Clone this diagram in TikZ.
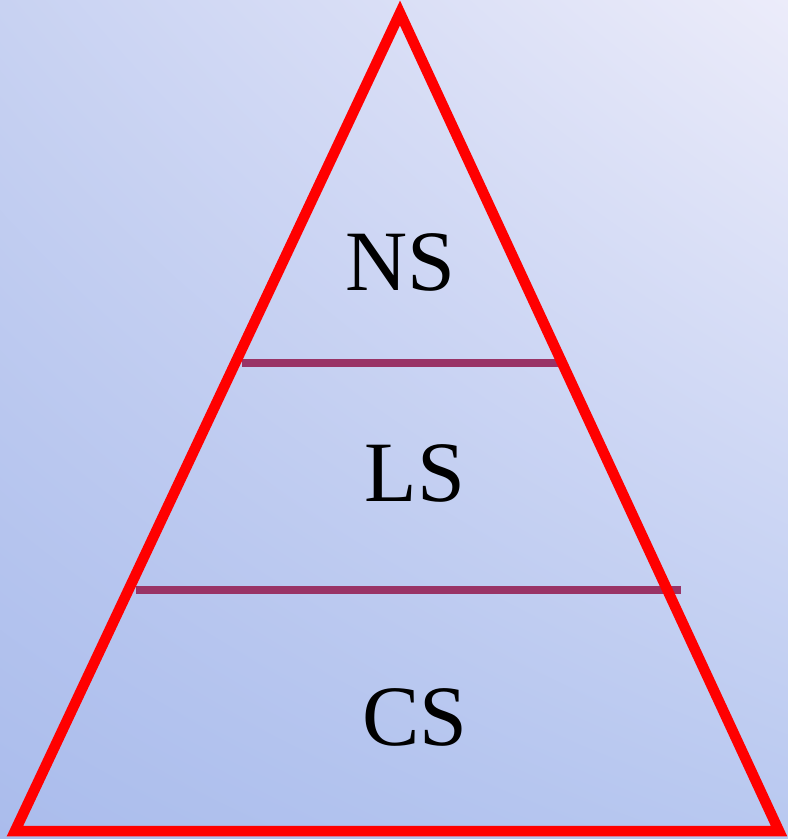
\documentclass[tikz,border=0pt]{standalone}
\usepackage{fontspec}
\setmainfont{Liberation Serif}
\usepackage{xcolor}
\usepackage{tikz}
\usetikzlibrary{calc,positioning,shadings}
\definecolor{pyrred}{RGB}{255,0,0}
\definecolor{layerline}{RGB}{153,51,102}
\definecolor{skytl}{RGB}{200,210,242}
\definecolor{skytr}{RGB}{236,236,250}
\definecolor{skybl}{RGB}{170,188,236}
\definecolor{skybr}{RGB}{184,200,240}

\begin{document}
\begin{tikzpicture}[x=1pt,y=-1pt]
    \useasboundingbox (0,0) rectangle (788,839);
    \shade[upper left=skytl,upper right=skytr,lower left=skybl,lower right=skybr] (0,0) rectangle (788,839);
    % corners of the pyramid
    \coordinate (apex) at (400,13);
    \coordinate (bl) at (15,831);
    \coordinate (br) at (779,831);
    \coordinate (ns-l) at (242,363);
    \coordinate (ns-r) at (559,363);
    \coordinate (ls-l) at (136,590);
    \coordinate (ls-r) at (681,590);
    \draw[layerline,line width=8pt] (ns-l) -- (ns-r);
    \draw[layerline,line width=8pt] (ls-l) -- (ls-r);
    \draw[pyrred,line width=10.5pt,line join=miter] (apex) -- (br) -- (bl) -- cycle;
    \node[anchor=base,font=\fontsize{86}{90}\selectfont,inner sep=0pt] (ns) at (400,290) {NS};
    \node[anchor=base,font=\fontsize{86}{90}\selectfont,inner sep=0pt] (ls) at (415,501) {LS};
    \node[anchor=base,font=\fontsize{86}{90}\selectfont,inner sep=0pt] (cs) at (415,745) {CS};
\end{tikzpicture}
\end{document}
